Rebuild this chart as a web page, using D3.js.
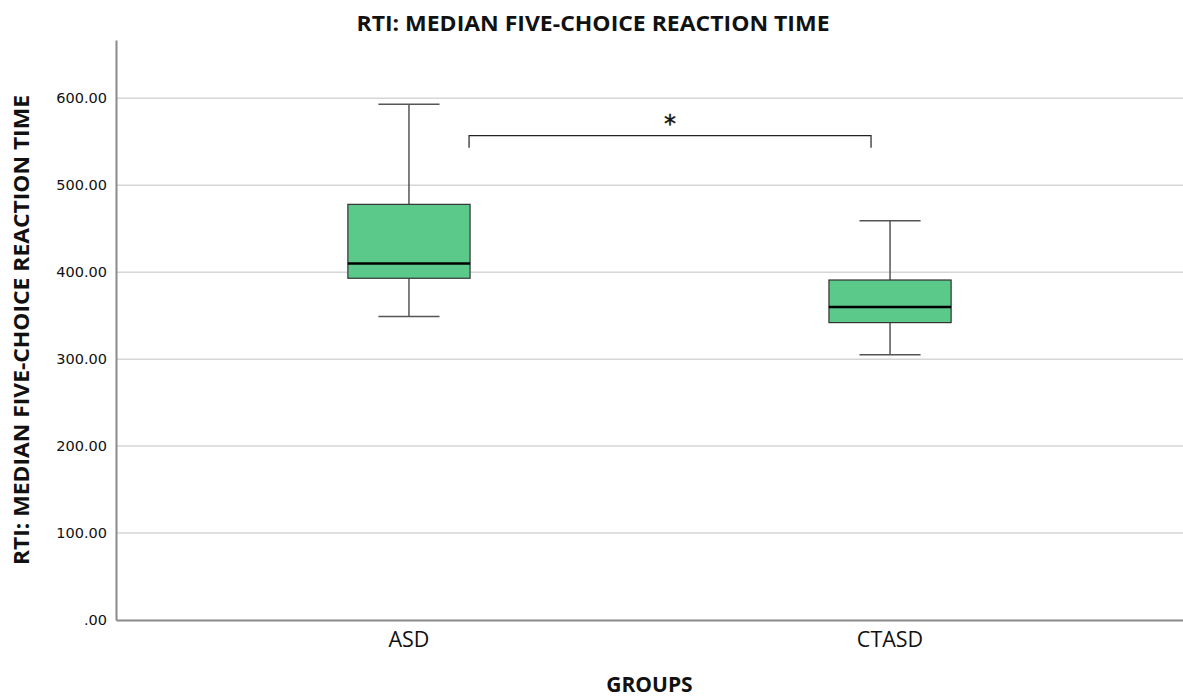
<!doctype html>
<html>
  <head>
    <script src="https://cdnjs.cloudflare.com/ajax/libs/d3/7.8.5/d3.min.js"></script>
  <style>
    body { margin: 0; background: #fff; }
    text { fill: #111; }
  </style>
  </head>
  <body>
    <svg id="chart" width="1183" height="697"></svg>
    <script>
      // values
      var groups = ["ASD", "CTASD"];
      var mins    = [349, 305];
      var q1s     = [393, 342];
      var medians = [410, 360];
      var q3s     = [478, 391];
      var maxs    = [593, 459];
      var yTicks  = [0, 100, 200, 300, 400, 500, 600];
      var sigLevel = 557;   // bracket height in data units
      var sigLabel = "*";

      var svg = d3.select("#chart");
      var mLeft = 116, mRight = 1183, mTop = 40, mBottom = 620;

      var x = d3.scaleBand().domain(groups).range([mLeft, mRight])
        .paddingInner(0.746).paddingOuter(0.482);
      var y = d3.scaleLinear().domain([0, 667]).range([mBottom, mTop]);

      // gridlines
      svg.append("g").selectAll("line").data(yTicks.slice(1)).enter()
        .append("line")
          .attr("x1", mLeft).attr("x2", mRight)
          .attr("y1", d => y(d)).attr("y2", d => y(d))
          .attr("stroke", "#d6d6d6").attr("stroke-width", 1.5);

      var yAxis = d3.axisLeft(y).tickValues(yTicks).tickSize(0).tickPadding(9)
        .tickFormat(d => d == 0 ? ".00" : d3.format(".2f")(d));
      var yg = svg.append("g").attr("transform", "translate(" + mLeft + ",0)").call(yAxis);
      yg.select("path.domain").attr("stroke", "#8a8a8a").attr("stroke-width", 2);
      yg.selectAll("text").style("font-family", "DejaVu Sans").style("font-size", "14.5px").attr("fill", "#222");

      var xAxis = d3.axisBottom(x).tickSize(0).tickPadding(12);
      var xg = svg.append("g").attr("transform", "translate(0," + mBottom + ")").call(xAxis);
      xg.select("path.domain").attr("stroke", "#8a8a8a").attr("stroke-width", 2);
      xg.selectAll("text").style("font-family", "Open Sans").style("font-size", "21.5px").attr("fill", "#111");

      var bw = x.bandwidth();
      var capW = bw / 2;
      var boxes = svg.append("g").selectAll("g").data(groups).enter().append("g");

      boxes.append("line")
        .attr("x1", d => x(d) + bw / 2).attr("x2", d => x(d) + bw / 2)
        .attr("y1", (d, i) => y(maxs[i])).attr("y2", (d, i) => y(q3s[i]))
        .attr("stroke", "#555").attr("stroke-width", 1.5);
      boxes.append("line")
        .attr("x1", d => x(d) + bw / 2).attr("x2", d => x(d) + bw / 2)
        .attr("y1", (d, i) => y(q1s[i])).attr("y2", (d, i) => y(mins[i]))
        .attr("stroke", "#555").attr("stroke-width", 1.5);
      boxes.append("line")
        .attr("x1", d => x(d) + bw / 2 - capW / 2).attr("x2", d => x(d) + bw / 2 + capW / 2)
        .attr("y1", (d, i) => y(maxs[i])).attr("y2", (d, i) => y(maxs[i]))
        .attr("stroke", "#555").attr("stroke-width", 1.5);
      boxes.append("line")
        .attr("x1", d => x(d) + bw / 2 - capW / 2).attr("x2", d => x(d) + bw / 2 + capW / 2)
        .attr("y1", (d, i) => y(mins[i])).attr("y2", (d, i) => y(mins[i]))
        .attr("stroke", "#555").attr("stroke-width", 1.5);
      boxes.append("rect")
        .attr("x", d => x(d)).attr("width", bw)
        .attr("y", (d, i) => y(q3s[i])).attr("height", (d, i) => y(q1s[i]) - y(q3s[i]))
        .attr("fill", "#5bc98a").attr("stroke", "#333").attr("stroke-width", 1.2);
      boxes.append("line")
        .attr("x1", d => x(d)).attr("x2", d => x(d) + bw)
        .attr("y1", (d, i) => y(medians[i])).attr("y2", (d, i) => y(medians[i]))
        .attr("stroke", "#000").attr("stroke-width", 2.5);

      // significance bracket
      var bx1 = x("ASD") + bw - 1, bx2 = x("CTASD") + bw / 2 - 19;
      var by = y(sigLevel);
      svg.append("path")
        .attr("d", "M" + bx1 + "," + (by + 12) + "V" + by + "H" + bx2 + "V" + (by + 12))
        .attr("fill", "none").attr("stroke", "#222").attr("stroke-width", 1.2);
      svg.append("text")
        .attr("x", (bx1 + bx2) / 2).attr("y", by - 4)
        .attr("text-anchor", "middle")
        .style("font-family", "DejaVu Sans").style("font-size", "24px")
        .attr("stroke", "#111").attr("stroke-width", 0.4)
        .text(sigLabel);

      // titles
      svg.append("text")
        .attr("x", 593).attr("y", 31).attr("text-anchor", "middle")
        .attr("textLength", 473).attr("lengthAdjust", "spacingAndGlyphs")
        .style("font-family", "Open Sans").style("font-weight", "bold").style("font-size", "22px")
        .text("RTI: MEDIAN FIVE-CHOICE REACTION TIME");
      svg.append("text")
        .attr("transform", "translate(29," + (mTop + mBottom) / 2 + ") rotate(-90)")
        .attr("text-anchor", "middle")
        .attr("textLength", 470).attr("lengthAdjust", "spacingAndGlyphs")
        .style("font-family", "Open Sans").style("font-weight", "bold").style("font-size", "21px")
        .text("RTI: MEDIAN FIVE-CHOICE REACTION TIME");
      svg.append("text")
        .attr("x", (mLeft + mRight) / 2).attr("y", 692).attr("text-anchor", "middle")
        .style("font-family", "Open Sans").style("font-weight", "bold").style("font-size", "21px")
        .text("GROUPS");
    </script>
  </body>
</html>
